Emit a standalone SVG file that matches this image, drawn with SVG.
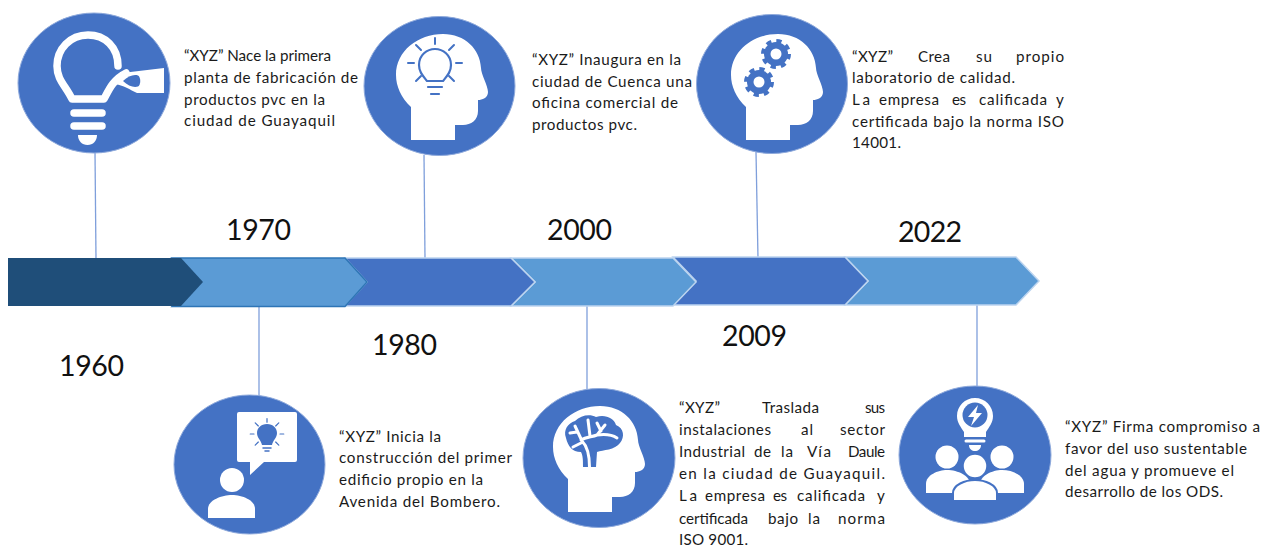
<svg xmlns="http://www.w3.org/2000/svg" width="1263" height="547" viewBox="0 0 1263 547">
<style>
.c{fill:#4472c4;stroke:#8faadc;stroke-width:1}
.w{fill:#fff}
.ws{fill:none;stroke:#fff;stroke-linecap:round;stroke-linejoin:round}
.bs{fill:none;stroke:#4472c4;stroke-linecap:round;stroke-linejoin:round}
.b{fill:#4472c4}
.con{stroke:#7f9fdb;stroke-width:1.3;fill:none}
.chev{stroke:#bcd4ef;stroke-width:1.5}
.lt{fill:#5b9bd5}
.dk{fill:#4472c4}
text{font-family:"Lato","Open Sans","Liberation Sans",sans-serif;fill:#1a1a1a}
.t{font-size:15.2px}
.y{font-size:28.5px;fill:#111}
</style>
<defs>
<path id="head" d="M411,140 L411,107 C401,98 396,86 396,75 C396,51 418,34 443,34 C465,34 480,49 481,68 C481,74 488,86 488,92 C488,98 482,100 478,100 L478,111 C478,120 471,125 463,125 L455,125 L455,140 Z"/>
<g id="rays" class="bs" stroke-width="2">
<path d="M0,-25V-19M-19,-18L-14,-13M19,-18L14,-13M-27,0H-21M27,0H21M-19,18L-14,13M19,18L14,13"/>
</g>
<g id="gear">
<circle r="13" fill="none" stroke="#4472c4" stroke-width="4" stroke-dasharray="5.2 5"/>
<circle r="12" class="b"/>
<circle r="5.5" class="w"/>
</g>
</defs>

<g id="connectors">
<line class="con" x1="95" y1="152" x2="96" y2="258"/>
<line class="con" x1="424" y1="155" x2="425" y2="258"/>
<line class="con" x1="756" y1="152" x2="758" y2="258"/>
<line class="con" x1="259" y1="307" x2="259" y2="396"/>
<line class="con" x1="587" y1="306" x2="587" y2="390"/>
<line class="con" x1="977" y1="305" x2="977" y2="387"/>
</g>

<g id="timeline-bar">
<polygon class="chev lt" points="845,257 1016,257 1039,281 1016,305 845,305 868,281"/>
<polygon class="chev dk" points="673,257 845,257 868,281 845,305 673,305 696,281"/>
<polygon class="chev lt" points="511,258 673,258 696,282 673,306 511,306 535,282"/>
<polygon class="chev dk" points="345,258 511,258 535,282 511,306 345,306 367,282"/>
<polygon points="172,258 345,258 367,282 345,306.500 172,306.500 194,282" fill="#5b9bd5" stroke="#2e75b6" stroke-width="1.500"/>
<polygon points="8,258 181,258 203,282 181,306 8,306" fill="#1f4e79"/>
</g>

<g id="year-1960"><text class="y" x="59" y="376" textLength="65">1960</text></g>
<g id="year-1970"><text class="y" x="226" y="240" textLength="65">1970</text></g>
<g id="year-1980"><text class="y" x="372" y="355" textLength="65">1980</text></g>
<g id="year-2000"><text class="y" x="547" y="240" textLength="65">2000</text></g>
<g id="year-2009"><text class="y" x="722" y="346" textLength="65">2009</text></g>
<g id="year-2022"><text class="y" x="898" y="242" textLength="64">2022</text></g>

<g id="node-1960">
<ellipse class="c" cx="94" cy="83" rx="76" ry="70"/>
<path class="ws" stroke-width="7.500" d="M118,66 C118,47 105,35 88,35 C70,35 57,49 57,66 C57,80 66,86 72,99 L104,99 C108,92 112,80 126,73"/>
<path class="w" d="M122,73 L164,68 V93 H137 C130,90 124,85 114,84 Z"/>
<path class="b" d="M123,81 C128,76 134,74 138,75.500 C141,77 141,85 138,86.500 C134,88 128,86 123,81 Z"/>
<path class="ws" stroke-width="7.500" d="M74,113H102M74,126H102"/>
<path class="w" d="M78,135H97C97,141 93,145 87.500,145C82,145 78,141 78,135Z"/>
</g>
<g id="text-1960">
<text class="t" x="184" y="61" textLength="147">“XYZ” Nace la primera</text>
<text class="t" x="184" y="83" textLength="174">planta de fabricación de</text>
<text class="t" x="184" y="105" textLength="141">productos pvc en la</text>
<text class="t" x="184" y="126" textLength="151">ciudad de Guayaquil</text>
</g>

<g id="node-1970">
<ellipse class="c" cx="249.500" cy="464.500" rx="75.500" ry="69.500"/>
<path class="w" d="M239,412 H295 Q297,412 297,414 V460 Q297,462 295,462 H264 L250,475 V462 H239 Q237,462 237,460 V414 Q237,412 239,412 Z"/>
<use href="#rays" transform="translate(267,434) scale(.62)"/>
<path class="b" d="M267,424 C273,424 277,428 277,433 C277,438 273,440 272,445 H262 C261,440 257,438 257,433 C257,428 261,424 267,424 Z"/>
<path class="bs" stroke-width="1.500" d="M263,448H271M265,451H269"/>
<circle class="w" cx="232" cy="480" r="12"/>
<path class="w" d="M208,518 V509 C208,500 222,495 232,495 C242,495 255,500 255,509 V518 Z"/>
</g>
<g id="text-1970">
<text class="t" x="339" y="442" textLength="102">“XYZ” Inicia la</text>
<text class="t" x="339" y="463" textLength="173">construcción del primer</text>
<text class="t" x="339" y="485" textLength="144">edificio propio en la</text>
<text class="t" x="339" y="507" textLength="161">Avenida del Bombero.</text>
</g>

<g id="node-1980">
<ellipse class="c" cx="439.500" cy="86" rx="75.500" ry="69.500"/>
<use href="#head" class="w"/>
<path class="bs" stroke-width="2.200" d="M427,81 C423,76 419,72 419,65 C419,55 427,49 435,49 C443,49 451,55 451,65 C451,72 447,76 443,81 Z"/>
<use href="#rays" transform="translate(435,63)"/>
<path class="bs" stroke-width="2.200" d="M428,87H442M431,94H439"/>
</g>
<g id="text-1980">
<text class="t" x="532" y="65" textLength="149">“XYZ” Inaugura en la</text>
<text class="t" x="532" y="87" textLength="160">ciudad de Cuenca una</text>
<text class="t" x="532" y="108" textLength="146">oficina comercial de</text>
<text class="t" x="532" y="130" textLength="105">productos pvc.</text>
</g>

<g id="node-2000">
<ellipse class="c" cx="599" cy="458" rx="76" ry="69.500"/>
<use href="#head" class="w" transform="translate(157,372)"/>
<path class="b" d="M566,438 C563,430 568,423 575,421 C581,415 590,414 596,417 C605,414 614,418 616,425 C624,428 625,437 620,443 C615,450 603,450 597,452 L596,467 H583 C583,460 583,456 581,452 C572,452 568,446 566,438 Z"/>
<path class="ws" stroke-width="3" d="M589.500,467 C589.500,455 588,447 582,441 L575,426M581,440 C586,437 592,437 597,435 L605,425M597,435 C604,434 611,434 617,438M590,436 L588,420M573,447 L581,443M577,432 L570,433M601,431 L597,423"/>
</g>
<g id="text-2000">
<text class="t" x="679" y="413" textLength="41">“XYZ”</text><text class="t" x="762" y="413" textLength="57">Traslada</text><text class="t" x="865" y="413" textLength="20">sus</text>
<text class="t" x="679" y="435" textLength="92">instalaciones</text><text class="t" x="801" y="435" textLength="12">al</text><text class="t" x="840" y="435" textLength="45">sector</text>
<text class="t" x="679" y="457" textLength="66">Industrial</text><text class="t" x="754" y="457" textLength="17">de</text><text class="t" x="781" y="457" textLength="12">la</text><text class="t" x="807" y="457" textLength="24">Vía</text><text class="t" x="848" y="457" textLength="37">Daule</text>
<text class="t" x="679" y="479" textLength="206">en la ciudad de Guayaquil.</text>
<text class="t" x="679" y="501" textLength="18">La</text><text class="t" x="705" y="501" textLength="60">empresa</text><text class="t" x="773" y="501" textLength="14">es</text><text class="t" x="797" y="501" textLength="68">calificada</text><text class="t" x="877" y="501" textLength="8">y</text>
<text class="t" x="679" y="524" textLength="69">certificada</text><text class="t" x="768" y="524" textLength="30">bajo</text><text class="t" x="808" y="524" textLength="12">la</text><text class="t" x="838" y="524" textLength="47">norma</text>
<text class="t" x="679" y="545" textLength="69">ISO 9001.</text>
</g>

<g id="node-2009">
<ellipse class="c" cx="772" cy="84" rx="75.500" ry="69.500"/>
<use href="#head" class="w" transform="translate(335,0)"/>
<use href="#gear" transform="translate(776,54)"/>
<use href="#gear" transform="translate(759,82)"/>
</g>
<g id="text-2009">
<text class="t" x="852" y="62" textLength="41">“XYZ”</text><text class="t" x="918" y="62" textLength="32">Crea</text><text class="t" x="976" y="62" textLength="16">su</text><text class="t" x="1016" y="62" textLength="48">propio</text>
<text class="t" x="852" y="83" textLength="163">laboratorio de calidad.</text>
<text class="t" x="852" y="105" textLength="18">La</text><text class="t" x="879" y="105" textLength="60">empresa</text><text class="t" x="952" y="105" textLength="14">es</text><text class="t" x="979" y="105" textLength="68">calificada</text><text class="t" x="1056" y="105" textLength="8">y</text>
<text class="t" x="852" y="127" textLength="212">certificada bajo la norma ISO</text>
<text class="t" x="852" y="148" textLength="49">14001.</text>
</g>

<g id="node-2022">
<ellipse class="c" cx="975" cy="455" rx="76" ry="69"/>
<path class="w" d="M975,398 C985,398 993,406 993,416 C993,423 989,427 986,432 V437 H964 V432 C961,427 957,423 957,416 C957,406 965,398 975,398 Z"/>
<circle class="b" cx="975" cy="415" r="12.500"/>
<path class="w" d="M978,405 L968,417 H974 L971,426 L982,413 H976 Z"/>
<path class="ws" stroke-width="3" d="M966,441H984"/>
<path class="w" d="M969,445H981C981,449 978,451 975,451C972,451 969,449 969,445Z"/>
<circle class="w" cx="947" cy="457" r="11.500"/>
<circle class="w" cx="1002" cy="457" r="11.500"/>
<path class="w" d="M926,493 V484 C926,475 938,470 947,470 C958,470 970,476 970,484 V493 Z"/>
<path class="w" d="M980,493 V484 C980,476 992,470 1002,470 C1012,470 1024,475 1024,484 V493 Z"/>
<circle class="w" cx="975" cy="466" r="12" stroke="#4472c4" stroke-width="1.500"/>
<path class="w" d="M953,501 V493 C953,485 965,480 975,480 C985,480 997,485 997,493 V501 Z" stroke="#4472c4" stroke-width="2"/>
</g>
<g id="text-2022">
<text class="t" x="1065" y="432" textLength="195">“XYZ” Firma compromiso a</text>
<text class="t" x="1065" y="454" textLength="182">favor del uso sustentable</text>
<text class="t" x="1065" y="476" textLength="169">del agua y promueve el</text>
<text class="t" x="1065" y="497" textLength="158">desarrollo de los ODS.</text>
</g>
</svg>
